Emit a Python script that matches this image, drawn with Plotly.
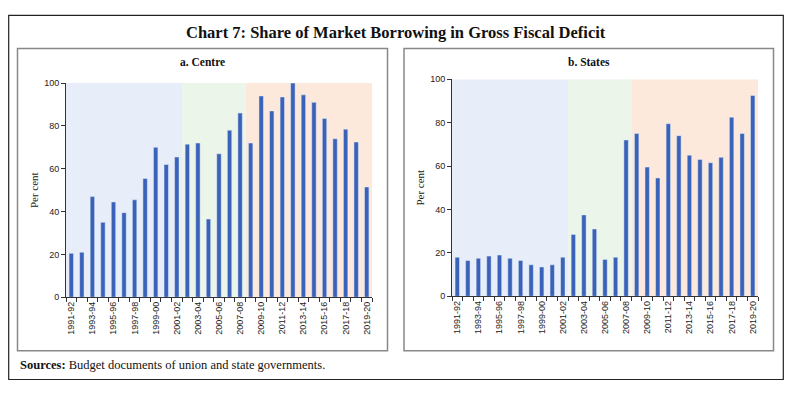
import plotly.graph_objects as go

years = ["1991-92","1992-93","1993-94","1994-95","1995-96","1996-97","1997-98","1998-99",
         "1999-00","2000-01","2001-02","2002-03","2003-04","2004-05","2005-06","2006-07",
         "2007-08","2008-09","2009-10","2010-11","2011-12","2012-13","2013-14","2014-15",
         "2015-16","2016-17","2017-18","2018-19","2019-20"]
centre = [20.5, 21, 47, 35, 44.5, 39.5, 45.5, 55.5, 70, 62, 65.5, 71.5, 72, 36.5, 67, 78,
          86, 72, 94, 87, 93.5, 100, 94.5, 91, 83.5, 74, 78.5, 72.5, 51.5]
states = [18, 16.5, 17.5, 18.5, 19, 17.5, 16.5, 14.5, 13.5, 14.5, 18, 28.5, 37.5, 31, 17, 18,
          72, 75, 59.5, 54.5, 79.5, 74, 65, 63, 61.5, 64, 82.5, 75, 92.5]
periods = [("1991-92", "2001-02"), ("2002-03", "2007-08"), ("2008-09", "2019-20")]
period_colors = ["#e8eef9", "#ebf5ea", "#fde8dc"]
yticks = [0, 20, 40, 60, 80, 100]

# page body has an 8px margin on each side; keep figure inside the window to avoid scrollbars
OFF = 8
W, H = 792 - 2 * OFF, 393 - 2 * OFF
def px(x): return (x - OFF) / W
def py(y): return 1 - (y - OFF) / H

BAR = "#3a62b9"
idx = list(range(len(years)))
tickvals = idx[::2]
ticktext = years[::2]

fig = go.Figure()
fig.add_trace(go.Bar(x=idx, y=centre, marker_color=BAR, width=0.42, xaxis="x", yaxis="y", showlegend=False))
fig.add_trace(go.Bar(x=idx, y=states, marker_color=BAR, width=0.42, xaxis="x2", yaxis="y2", showlegend=False))

shapes = []
for xr, yr in (("x", "y"), ("x2", "y2")):
    for (a, b), c in zip(periods, period_colors):
        shapes.append(dict(type="rect", xref=xr, yref=yr, x0=years.index(a) - 0.5,
                           x1=years.index(b) + 0.5, y0=0, y1=100, fillcolor=c,
                           line_width=0, layer="below"))
# boxes
shapes.append(dict(type="rect", xref="paper", yref="paper", x0=px(8.7), x1=px(783.3), y0=py(384.5), y1=py(10.5),
                   line=dict(color="#222", width=1.2)))
shapes.append(dict(type="rect", xref="paper", yref="paper", x0=px(17.5), x1=px(387.5), y0=py(355), y1=py(44.5),
                   line=dict(color="#888", width=1.5)))
shapes.append(dict(type="rect", xref="paper", yref="paper", x0=px(404), x1=px(773.5), y0=py(355), y1=py(44.5),
                   line=dict(color="#888", width=1.5)))

xcommon = dict(tickmode="array", tickvals=tickvals, ticktext=ticktext, tickangle=-90,
               range=[-0.5, len(years) - 0.5], showline=True, linecolor="#333", linewidth=1,
               ticks="", showgrid=False, zeroline=False,
               tickfont=dict(family="Liberation Sans", size=9, color="#222"),
               minor=dict(tickmode="linear", tick0=-0.5, dtick=1, ticks="outside", ticklen=4,
                          tickcolor="#333", showgrid=False))
ycommon = dict(range=[0, 100], tickvals=yticks, showline=True, linecolor="#333", linewidth=1,
               ticks="outside", ticklen=4, tickcolor="#333", showgrid=False, zeroline=False,
               tickfont=dict(family="Liberation Sans", size=9, color="#222"),
               title=dict(text="Per cent", font=dict(family="Liberation Serif", size=11, color="#222"),
                          standoff=3))

fig.update_layout(
    width=W, height=H, margin=dict(l=0, r=0, t=0, b=0),
    paper_bgcolor="white", plot_bgcolor="rgba(0,0,0,0)",
    xaxis=dict(domain=[px(66), px(372)], anchor="y", **xcommon),
    yaxis=dict(domain=[py(300), py(80)], anchor="x", **ycommon),
    xaxis2=dict(domain=[px(452), px(758)], anchor="y2", **xcommon),
    yaxis2=dict(domain=[py(299), py(76)], anchor="x2", **ycommon),
    shapes=shapes,
    annotations=[
        dict(text="<b>Chart 7: Share of Market Borrowing in Gross Fiscal Deficit</b>", x=px(396), y=py(28),
             xref="paper", yref="paper", showarrow=False, xanchor="center", yanchor="middle",
             font=dict(family="Liberation Serif", size=16.5, color="#111")),
        dict(text="<b>a. Centre</b>", x=px(202), y=py(58), xref="paper", yref="paper", showarrow=False,
             xanchor="center", yanchor="middle", font=dict(family="Liberation Serif", size=11.5, color="#111")),
        dict(text="<b>b. States</b>", x=px(589), y=py(58), xref="paper", yref="paper", showarrow=False,
             xanchor="center", yanchor="middle", font=dict(family="Liberation Serif", size=11.5, color="#111")),
        dict(text="<b>Sources:</b> Budget documents of union and state governments.", x=px(18), y=py(370),
             xref="paper", yref="paper", showarrow=False, xanchor="left", yanchor="middle",
             font=dict(family="Liberation Serif", size=12.5, color="#111")),
    ],
)
fig.write_html("out.html")
